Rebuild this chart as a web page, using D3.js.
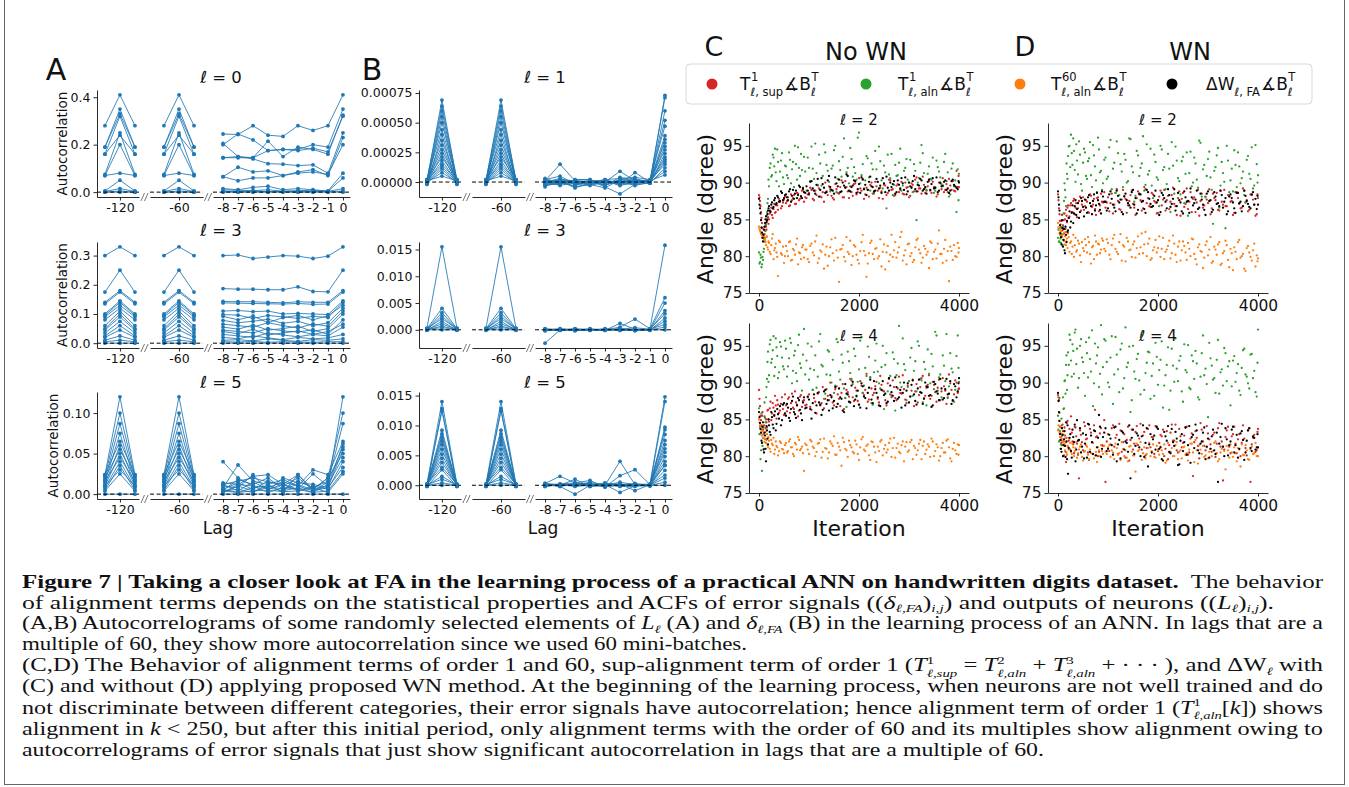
<!DOCTYPE html>
<html><head><meta charset="utf-8">
<script src="https://cdn.jsdelivr.net/npm/d3@7"></script>
<style>body{margin:0;background:#fff}svg{display:block}</style>
</head><body>
<svg id="fig" width="1349" height="787"></svg>
<script>
// ---------------- DATA ----------------
// Autocorrelogram lags (x categories)
const lags = [-121,-120,-119,-61,-60,-59,-8,-7,-6,-5,-4,-3,-2,-1,0];
const segTicks = [[-120],[-60],[-8,-7,-6,-5,-4,-3,-2,-1,0]];
// each row: [value at lag ±1 around 60k, value at lag 60k, values at lags -8..-1 (8), value at lag 0]
const acfA0 = [
 [0.28,0.41, 0.245,0.243,0.28,0.24,0.235,0.28,0.26,0.28, 0.41],
 [0.19,0.35, 0.20,0.245,0.22,0.175,0.18,0.18,0.20,0.19, 0.35],
 [0.19,0.33, 0.205,0.15,0.145,0.215,0.15,0.19,0.18,0.16, 0.325],
 [0.16,0.32, 0.145,0.145,0.145,0.175,0.18,0.175,0.185,0.17, 0.32],
 [0.075,0.25, 0.145,0.15,0.14,0.12,0.118,0.112,0.115,0.08, 0.25],
 [0.16,0.24, 0.065,0.105,0.085,0.09,0.07,0.085,0.095,0.07, 0.23],
 [0.07,0.20, 0.065,0.048,0.06,0.06,0.07,0.08,0.085,0.075, 0.20],
 [0.07,0.08, 0.015,0.01,0.02,0.025,0.01,0.015,0.01,0.005, 0.08],
 [0.005,0.05, 0.01,0.008,0.006,0.01,0.004,0.006,0.008,0.003, 0.06],
 [0.003,0.015, 0.004,0.003,0.005,0.002,0.003,0.004,0.002,0.003, 0.015],
 [0,0.005, 0.002,0.001,0.002,0.001,0.002,0.001,0.002,0.001, 0.005],
 [0,0, 0,0,0,0,0,0,0,0, 0]
];
const acfA3 = [
 [0.30,0.33, 0.300,0.302,0.290,0.295,0.300,0.298,0.290,0.298, 0.33],
 [0.175,0.25, 0.187,0.185,0.185,0.183,0.183,0.193,0.177,0.176, 0.25],
 [0.14,0.18, 0.143,0.142,0.142,0.140,0.138,0.142,0.140,0.140, 0.18],
 [0.135,0.175, 0.138,0.137,0.136,0.135,0.134,0.136,0.133,0.134, 0.175],
 [0.10,0.145, 0.110,0.112,0.108,0.110,0.100,0.102,0.100,0.098, 0.145],
 [0.095,0.14, 0.098,0.096,0.085,0.095,0.090,0.085,0.092,0.088, 0.14],
 [0.09,0.13, 0.092,0.080,0.093,0.070,0.088,0.095,0.080,0.094, 0.13],
 [0.08,0.12, 0.078,0.070,0.075,0.082,0.068,0.075,0.060,0.070, 0.12],
 [0.06,0.11, 0.065,0.060,0.055,0.070,0.060,0.052,0.066,0.058, 0.11],
 [0.05,0.10, 0.055,0.048,0.062,0.045,0.050,0.058,0.040,0.050, 0.10],
 [0.045,0.09, 0.045,0.040,0.035,0.050,0.042,0.038,0.046,0.030, 0.08],
 [0.035,0.075, 0.040,0.032,0.048,0.028,0.035,0.042,0.030,0.040, 0.065],
 [0.025,0.06, 0.030,0.025,0.020,0.035,0.028,0.022,0.030,0.025, 0.055],
 [0.02,0.045, 0.020,0.015,0.025,0.018,0.012,0.020,0.015,0.018, 0.03],
 [0.01,0.025, 0.010,0.012,0.008,0.015,0.010,0.006,0.012,0.010, 0.015],
 [0.005,0.01, 0.005,0.004,0.006,0.003,0.005,0.004,0.003,0.005, 0.005],
 [0,0, 0,0,0,0,0,0,0,0, 0]
];
const acfA5 = [
 [0.024,0.12, 0.004,0.002,0.008,0.010,0.006,0.012,0.005,0.010, 0.12],
 [0.022,0.10, 0.012,0.016,0.020,0.015,0.012,0.024,0.006,0.020, 0.10],
 [0.018,0.087, 0.040,0.020,0.010,0.008,0.015,0.010,0.004,0.015, 0.087],
 [0.015,0.075, 0.008,0.036,0.016,0.012,0.018,0.010,0.030,0.024, 0.065],
 [0.024,0.065, 0.014,0.012,0.022,0.024,0.012,0.006,0.025,0.010, 0.062],
 [0.012,0.06, 0.005,0.018,0.012,0.020,0.006,0.016,0.008,0.016, 0.058],
 [0.020,0.055, 0.010,0.008,0.024,0.004,0.020,0.014,0.012,0.008, 0.055],
 [0.010,0.05, 0.006,0.014,0.006,0.016,0.010,0.020,0.006,0.020, 0.05],
 [0.016,0.045, 0.002,0.010,0.004,0.008,0.004,0.008,0.002,0.012, 0.045],
 [0.008,0.04, 0.012,0.004,0.015,0.006,0.012,0.004,0.010,0.006, 0.04],
 [0.005,0.035, 0.004,0.006,0.002,0.012,0.002,0.024,0.004,0.008, 0.033],
 [0.010,0.03, 0.002,0.012,0.010,0.002,0.008,0.006,0.002,0.004, 0.028],
 [0.004,0.025, 0.006,0.002,0.004,0.005,0.003,0.004,0.008,0.002, 0.025],
 [0,0, 0,0,0,0,0,0,0,0, 0]
];
const acfB1 = [
 [0.00001,0.00069, 0.00002,0.00005,-0.00002,0.00001,-0.00003,0.00002,0.00001,0.00000, 0.00073],
 [0.00002,0.00064, -0.00001,0.00002,0.00001,-0.00002,0.00000,0.00009,0.00001,0.00001, 0.00071],
 [0.00000,0.00060, 0.00001,0.00015,0.00001,0.00000,0.00002,-0.00002,0.00008,0.00000, 0.00060],
 [-0.00001,0.00055, -0.00003,-0.00001,-0.00003,0.00001,-0.00004,-0.00010,-0.00002,0.00001, 0.00052],
 [0.00001,0.00050, 0.00000,0.00003,-0.00001,-0.00001,0.00002,0.00003,0.00004,0.00002, 0.00047],
 [0.00002,0.00044, 0.00002,-0.00002,0.00002,0.00002,-0.00001,0.00001,-0.00001,0.00001, 0.00039],
 [-0.00002,0.00040, -0.00002,0.00001,-0.00004,-0.00002,-0.00005,0.00002,0.00003,-0.00001, 0.00036],
 [0.00001,0.00035, 0.00001,-0.00003,0.00000,0.00001,0.00001,-0.00003,0.00000,0.00002, 0.00033],
 [0.00000,0.00031, -0.00004,0.00002,-0.00002,-0.00003,0.00000,0.00001,-0.00003,0.00000, 0.00030],
 [0.00001,0.00027, 0.00003,-0.00001,0.00001,0.00000,-0.00002,0.00000,0.00002,0.00001, 0.00027],
 [-0.00001,0.00024, 0.00000,0.00001,-0.00005,-0.00001,0.00001,-0.00001,-0.00002,-0.00001, 0.00024],
 [0.00002,0.00021, -0.00002,-0.00002,0.00002,0.00002,-0.00003,0.00004,0.00001,0.00000, 0.00021],
 [0.00000,0.00018, 0.00001,0.00000,-0.00001,-0.00002,0.00000,-0.00002,-0.00001,0.00001, 0.00019],
 [0.00001,0.00015, 0.00000,0.00002,0.00001,0.00000,0.00001,0.00000,0.00002,0.00000, 0.00017],
 [0.00000,0.00013, 0.00001,0.00000,0.00001,-0.00001,0.00000,0.00001,0.00000,0.00001, 0.00015],
 [-0.00001,0.00011, -0.00001,-0.00001,0.00000,0.00001,-0.00001,0.00001,0.00000,-0.00001, 0.00012],
 [0.00000,0.00008, 0.00000,0.00001,-0.00001,0.00000,0.00000,-0.00001,0.00001,0.00000, 0.00009],
 [0.00001,0.00005, 0.00001,0.00000,0.00000,-0.00001,0.00001,0.00000,0.00000,0.00001, 0.00006]
];
const acfB3 = [
 [0.0003,0.0155, -0.0002,0.0000,0.0001,0.0000,-0.0001,0.0002,0.0000,0.0001, 0.0158],
 [0.0002,0.0040, 0.0000,0.0001,-0.0001,0.0001,0.0000,0.0005,0.0020,0.0002, 0.0060],
 [0.0001,0.0032, -0.0025,0.0000,0.0000,-0.0001,0.0001,0.0000,-0.0001,0.0000, 0.0050],
 [0.0000,0.0026, 0.0001,-0.0001,0.0002,0.0000,-0.0001,0.0012,0.0001,0.0000, 0.0036],
 [0.0002,0.0021, 0.0000,0.0002,0.0000,0.0001,0.0000,0.0001,0.0004,0.0001, 0.0030],
 [-0.0001,0.0016, 0.0002,0.0000,-0.0002,0.0000,0.0002,-0.0001,0.0000,-0.0001, 0.0022],
 [0.0001,0.0011, -0.0001,0.0001,0.0001,-0.0001,0.0000,0.0002,-0.0002,0.0000, 0.0016],
 [0.0000,0.0007, 0.0000,-0.0001,0.0000,0.0002,-0.0001,0.0000,0.0001,0.0001, 0.0010],
 [0.0001,0.0004, 0.0001,0.0000,0.0001,0.0000,0.0001,-0.0001,0.0000,0.0000, 0.0005],
 [0,0, 0,0,0,0,0,0,0,0, 0]
];
const acfB5 = [
 [0.0002,0.0140, 0.0000,0.0001,-0.0001,0.0001,0.0000,0.0001,-0.0001,0.0002, 0.0148],
 [-0.0002,0.0128, 0.0003,0.0015,0.0004,0.0002,0.0001,0.0000,0.0001,0.0000, 0.0140],
 [0.0001,0.0124, -0.0001,0.0000,0.0010,-0.0002,0.0000,0.0040,0.0001,0.0001, 0.0097],
 [0.0000,0.0092, 0.0002,-0.0002,-0.0015,0.0000,0.0003,0.0002,0.0000,0.0000, 0.0093],
 [-0.0001,0.0086, -0.0002,0.0002,0.0004,0.0008,-0.0003,0.0016,0.0026,0.0001, 0.0085],
 [0.0002,0.0080, 0.0001,-0.0001,0.0000,-0.0001,0.0001,-0.0012,-0.0001,-0.0001, 0.0075],
 [0.0001,0.0074, 0.0000,0.0000,0.0002,0.0003,-0.0002,0.0002,-0.0009,0.0001, 0.0068],
 [-0.0001,0.0068, 0.0003,0.0001,-0.0002,0.0000,0.0004,0.0000,0.0003,0.0000, 0.0061],
 [0.0000,0.0060, -0.0001,0.0002,0.0001,0.0005,0.0000,0.0005,0.0001,0.0002, 0.0055],
 [0.0001,0.0052, 0.0001,-0.0002,0.0003,-0.0002,0.0001,-0.0001,0.0000,-0.0001, 0.0048],
 [-0.0001,0.0045, 0.0000,0.0001,-0.0001,0.0001,-0.0003,0.0001,0.0002,0.0000, 0.0040],
 [0.0000,0.0038, 0.0002,0.0000,0.0002,0.0000,0.0000,-0.0002,-0.0002,0.0001, 0.0034],
 [0.0002,0.0030, -0.0002,0.0001,0.0000,0.0002,0.0001,0.0001,0.0000,0.0000, 0.0033],
 [-0.0002,0.0026, 0.0001,-0.0001,0.0001,-0.0001,0.0000,0.0000,0.0001,-0.0001, 0.0025],
 [0.0000,0.0015, 0.0000,0.0002,0.0000,0.0001,0.0001,-0.0001,0.0000,0.0001, 0.0017],
 [0.0001,0.0010, 0.0001,0.0000,0.0001,0.0000,-0.0001,0.0000,0.0001,0.0000, 0.0012],
 [0.0000,0.0004, 0,0,0,0,0,0,0,0, 0.0005],
 [0,0, 0,0,0,0,0,0,0,0, 0]
];

// Iterations (x values of the angle scatter plots): two interleaved sampling grids
const iters = [0,20,40,60,80,100,120,140,160,180,200,230,260,290,320,350,380,420,460,500,
 540,580,620,660,700,740,780,820,860,900,
 950,1000,1050,1100,1150,1200,1250,1300,1350,1400,1450,1500,1550,1600,1650,1700,1750,1800,1850,1900,
 1950,2000,2050,2100,2150,2200,2250,2300,2350,2400,2450,2500,2550,2600,2650,2700,2750,2800,2850,2900,
 2950,3000,3050,3100,3150,3200,3250,3300,3350,3400,3450,3500,3550,3600,3650,3700,3750,3800,3850,3900,
 3950,4000];
const iters2 = [10,30,50,70,90,110,130,150,170,190,215,245,275,305,335,365,400,440,480,520,
 560,600,640,680,720,760,800,840,880,925,
 975,1025,1075,1125,1175,1225,1275,1325,1375,1425,1475,1525,1575,1625,1675,1725,1775,1825,1875,1925,
 1975,2025,2075,2125,2175,2225,2275,2325,2375,2425,2475,2525,2575,2625,2675,2725,2775,2825,2875,2925,
 2975,3025,3075,3125,3175,3225,3275,3325,3375,3425,3475,3525,3575,3625,3675,3725,3775,3825,3875,3925,
 3975,3990];

// C (No WN), l = 2
const cTopSup = [88.3,87.5,86.0,84.5,83.0,82.4,83.5,84.0,84.8,85.3,85.0,86.1,85.6,86.4,85.9,87.0,86.3,87.4,86.8,87.7,
 87.2,88.0,86.9,87.6,88.3,87.1,88.5,87.8,88.9,87.4,
 87.9,88.6,89.0,87.6,88.3,89.2,88.0,87.4,88.8,89.5,88.2,87.7,89.1,88.5,90.3,88.0,89.4,87.9,88.7,89.8,
 88.4,90.6,88.9,87.8,89.3,88.1,90.0,88.6,89.5,87.9,88.8,89.7,88.3,90.4,89.0,88.2,89.6,88.7,90.1,88.4,
 89.3,88.0,89.9,88.8,90.7,89.2,88.5,89.7,88.9,90.2,88.6,89.4,88.1,90.0,89.1,88.7,89.8,90.5,89.0,88.9,91.6,89.4];
const cTopSup2 = [88.0,86.8,85.2,83.8,82.6,83.0,84.2,83.6,85.1,84.4,85.8,86.6,85.2,87.1,86.0,86.9,87.8,86.5,87.3,88.1,
 87.5,86.8,88.4,87.9,87.1,88.6,87.6,88.2,89.0,88.0,
 88.4,89.3,87.8,88.9,89.6,88.1,88.7,90.0,88.3,89.1,87.9,89.8,88.6,89.4,88.0,90.2,88.8,89.5,88.2,89.9,
 88.7,89.2,90.5,88.4,89.0,89.7,88.5,90.1,88.9,89.3,87.8,89.6,88.6,90.3,89.1,88.3,89.8,89.0,88.5,90.0,
 89.4,88.2,89.7,90.4,88.8,89.2,90.8,88.6,89.5,88.9,90.1,89.3,88.4,89.9,90.6,89.0,88.7,89.6,90.2,88.8,89.4,90.9];
const cTopAln1 = [80.5,79.2,79.8,78.9,79.5,81.0,82.5,84.3,86.0,87.8,89.5,92.6,91.0,93.4,94.6,90.2,92.8,91.5,94.0,89.8,
 92.2,90.6,93.1,91.8,89.4,92.5,94.8,90.9,91.7,93.5,
 88.9,92.0,94.9,90.5,91.3,93.8,89.6,95.2,92.4,90.1,91.9,94.4,88.7,92.9,90.8,96.0,91.4,89.9,93.2,92.1,
 90.4,96.8,91.0,89.2,93.6,90.7,92.6,88.5,91.8,94.9,90.3,92.3,86.5,91.1,93.9,89.7,90.9,92.7,88.9,91.6,
 93.2,90.0,89.4,92.5,84.9,90.6,95.1,91.3,89.0,92.2,90.4,88.6,93.0,91.5,89.8,92.8,90.2,88.1,91.9,89.5,86.0,91.2];
const cTopAln1b = [79.0,80.2,78.5,79.9,80.6,82.0,83.4,85.5,87.2,90.4,92.0,90.8,93.8,92.2,91.4,94.5,89.5,93.0,90.7,92.3,
 91.0,94.1,89.9,92.8,95.0,90.4,92.0,93.9,89.3,91.5,
 93.4,90.2,91.9,95.3,89.7,92.6,90.9,94.1,91.6,88.8,92.3,95.0,90.5,91.7,93.5,89.4,92.0,94.7,90.8,91.3,
 96.1,89.9,92.5,90.3,93.3,88.9,91.8,94.3,90.1,92.9,89.2,91.4,93.8,90.6,88.3,92.4,91.0,94.6,89.6,92.0,
 90.4,93.1,88.7,91.6,90.0,92.7,94.0,89.3,91.2,90.5,93.4,88.9,92.1,90.7,89.5,93.9,91.4,88.4,92.6,90.3,91.8,87.6];
const cTopAln60 = [84.0,83.5,83.1,82.8,82.6,82.9,82.2,81.5,82.7,80.9,81.8,80.3,82.4,79.6,81.1,80.5,77.3,81.9,80.2,79.1,
 81.4,80.0,82.0,79.5,80.8,81.6,78.9,80.4,81.2,79.8,
 80.9,79.2,81.7,80.1,82.8,79.7,80.6,78.3,81.3,80.0,82.3,79.4,80.8,76.5,81.0,79.9,82.6,80.3,78.8,81.5,
 80.2,79.0,81.9,80.7,77.2,80.4,82.1,79.6,81.1,80.0,78.6,81.6,80.5,79.3,82.9,80.8,79.8,81.2,83.3,80.1,
 78.9,81.7,80.4,79.5,82.2,80.9,79.1,81.4,80.2,78.4,81.8,80.6,79.7,83.5,80.3,81.0,79.4,76.6,80.7,81.5,79.9,81.1];
const cTopAln60b = [83.7,83.3,82.9,82.5,82.7,82.3,81.9,82.6,81.2,82.0,80.6,81.5,83.0,80.8,81.7,79.9,82.1,80.4,81.3,80.0,
 80.7,81.9,79.4,81.0,80.2,82.4,80.5,79.6,81.5,80.9,
 79.6,81.4,80.5,82.0,79.1,80.8,81.6,80.2,78.7,81.2,80.4,82.5,79.8,80.9,81.5,79.3,80.6,82.1,80.0,81.3,
 79.5,80.7,82.9,80.1,79.0,81.8,80.3,81.0,79.7,82.3,80.6,78.2,81.4,80.2,79.9,81.9,80.5,82.6,79.4,80.8,
 81.6,80.0,79.2,81.2,82.4,80.4,79.8,81.0,80.6,82.0,79.6,80.9,81.7,80.3,79.1,82.2,80.7,81.3,79.5,80.0,81.8,80.5];
const cTopDW = [87.8,86.5,84.9,83.2,82.0,83.6,84.5,85.4,84.9,86.2,86.8,86.0,87.3,86.7,87.9,87.2,88.0,87.5,88.6,87.9,
 88.4,87.6,89.1,88.2,87.8,88.9,88.3,89.4,87.9,88.7,
 89.5,88.4,90.2,88.9,89.7,88.1,90.6,89.3,88.7,90.9,89.0,88.5,89.9,90.4,88.8,89.6,91.1,88.9,89.4,90.3,
 88.6,89.8,90.7,89.1,88.3,90.1,89.5,88.8,90.5,89.2,88.6,89.9,90.8,88.9,89.4,90.2,88.7,89.7,90.6,89.0,
 88.4,90.0,89.3,90.9,88.8,89.6,90.3,89.1,88.5,90.4,89.8,89.2,90.7,88.9,89.5,90.1,89.0,88.6,90.2,89.7,89.3,90.0];
const cTopDW2 = [87.0,85.8,83.9,82.5,82.9,84.0,85.0,84.6,85.7,86.5,86.2,87.0,86.5,87.6,87.0,88.2,87.4,88.8,87.6,88.3,
 88.0,88.8,87.4,89.0,88.5,87.9,89.6,88.1,89.2,88.6,
 88.9,90.1,89.2,88.5,90.5,89.0,89.8,88.6,90.3,89.4,88.9,90.7,89.5,88.7,90.0,89.3,90.9,88.8,89.6,90.2,
 89.1,88.6,90.4,89.7,89.0,90.8,89.4,88.9,90.1,89.6,90.6,88.7,89.3,90.0,89.8,88.5,90.3,89.2,89.9,90.7,
 88.8,89.5,90.2,89.1,89.7,90.5,88.9,89.4,90.1,89.0,90.6,89.3,88.7,90.0,89.6,90.3,89.2,88.9,90.4,89.5,89.1,90.2];

// C (No WN), l = 4
const cBotSup = [89.0,86.8,84.9,85.5,83.6,84.2,82.3,85.0,83.9,86.3,84.7,87.4,85.8,86.6,88.2,85.1,87.0,86.2,88.0,85.6,
 86.9,87.8,85.9,88.5,86.4,87.3,85.4,88.1,86.7,87.6,
 87.0,88.4,86.3,87.9,85.8,88.7,87.2,86.5,89.1,87.6,88.2,86.9,89.5,87.8,88.6,86.4,89.0,88.1,90.3,87.5,
 88.9,87.0,89.6,88.3,91.2,87.7,89.2,88.6,90.1,87.3,89.7,88.8,86.9,90.5,88.0,89.4,87.6,90.8,88.5,89.1,
 87.2,90.2,88.9,86.8,89.8,88.3,90.6,87.9,89.3,91.0,88.2,89.7,87.4,90.4,88.8,89.5,87.1,91.1,89.0,88.4,90.0,89.2];
const cBotSup2 = [87.8,85.5,84.2,86.0,83.0,85.4,83.8,84.6,86.2,85.0,86.5,84.9,87.2,85.6,86.9,87.6,85.9,87.1,86.4,88.4,
 86.1,88.0,87.2,86.6,88.8,87.0,86.2,88.3,87.5,86.9,
 88.0,86.7,89.0,87.4,88.5,86.9,89.4,87.8,88.2,90.0,87.3,89.1,88.4,86.8,89.8,87.9,88.7,90.5,88.0,89.3,
 87.5,90.2,88.6,89.0,87.4,90.7,88.3,89.5,87.8,90.9,88.9,87.6,89.9,88.4,90.3,87.9,89.2,88.6,91.0,87.7,
 89.6,88.1,90.4,88.8,87.3,89.4,90.9,88.2,89.7,87.8,90.1,88.7,89.3,87.6,90.6,88.9,88.0,89.9,87.5,90.3,88.6,89.1];
const cBotAln1 = [86.5,84.0,80.8,78.0,82.5,81.0,85.2,88.0,90.5,94.2,91.0,95.8,93.2,96.3,92.1,94.8,90.6,95.5,93.4,91.8,
 94.6,92.2,96.0,89.9,93.7,91.3,95.1,92.6,88.9,97.3,
 93.0,90.4,94.9,91.7,89.3,95.6,92.4,87.8,91.1,94.2,90.0,88.6,95.9,91.5,93.8,89.2,86.7,92.9,90.5,94.6,
 88.1,91.8,96.2,89.6,90.9,93.5,87.2,91.4,95.3,89.9,92.1,86.4,94.0,90.6,88.3,93.2,91.0,97.7,89.4,92.5,
 87.6,90.2,94.7,91.6,88.8,95.0,90.3,92.8,86.9,91.2,93.9,89.1,96.4,90.7,88.0,92.3,96.6,89.5,91.9,87.4,93.6,90.1];
const cBotAln1b = [83.0,79.6,85.8,81.4,83.9,87.3,84.6,89.4,92.8,90.1,95.2,92.7,94.4,90.9,96.0,93.6,91.4,94.9,92.2,95.7,
 90.8,93.3,95.4,91.6,94.3,90.2,96.5,92.0,93.8,91.1,
 95.3,91.9,89.0,93.7,90.8,96.6,92.2,88.5,94.4,91.0,93.1,89.6,95.5,90.4,92.7,87.9,94.2,91.3,89.8,93.6,
 90.1,95.7,88.6,92.0,94.9,90.7,87.0,93.0,91.5,89.2,95.0,92.4,88.8,90.9,94.1,86.2,92.6,90.0,96.0,91.7,
 89.4,93.4,88.2,92.9,95.6,90.5,87.3,91.8,94.5,89.9,92.2,96.9,88.9,91.1,93.7,90.2,87.9,94.0,91.4,89.0,96.4,92.0];
const cBotAln60 = [85.0,84.2,83.6,82.8,84.0,83.1,82.4,81.8,83.0,81.2,82.1,80.6,81.7,82.5,80.9,81.4,80.1,82.0,81.0,80.4,
 81.8,80.7,82.3,81.2,80.0,81.6,82.6,80.8,81.3,78.0,
 81.5,80.3,82.0,81.1,80.6,81.8,79.8,82.4,81.0,80.5,81.7,82.7,80.2,81.3,78.7,81.9,80.8,82.1,81.2,80.4,
 81.6,79.5,82.3,80.9,81.4,80.1,82.0,81.3,79.2,80.7,82.2,81.0,80.5,81.8,79.9,82.5,81.1,80.6,81.5,79.3,
 81.9,80.8,82.2,81.4,80.2,81.7,79.6,82.0,80.9,81.3,82.4,80.0,81.6,79.4,81.1,80.5,82.1,81.2,79.3,81.8,80.3,81.5];
const cBotAln60b = [84.6,83.9,82.9,83.4,82.5,81.9,83.3,82.2,81.5,82.6,81.0,82.2,81.5,80.3,82.0,81.2,80.7,81.8,80.9,81.5,
 80.5,82.0,81.2,80.3,81.8,80.9,82.2,81.0,80.4,81.7,
 80.9,82.2,81.3,80.0,81.7,82.3,80.6,81.1,79.7,82.0,81.4,80.2,81.8,80.8,82.5,81.0,79.9,81.5,80.6,82.1,
 80.3,81.2,82.6,80.7,81.6,79.5,81.9,80.5,81.3,82.0,80.1,81.5,80.9,82.4,81.1,79.8,81.7,80.4,82.0,81.3,
 80.6,81.9,79.6,81.1,80.8,82.2,81.4,80.3,81.6,79.9,82.0,80.7,81.2,80.0,81.8,80.5,82.3,79.7,81.0,80.8,81.6,80.2];
const cBotDW = [86.0,84.5,83.2,81.8,84.6,80.5,82.8,79.3,83.5,81.6,84.2,82.9,85.3,83.8,86.1,84.4,85.7,86.8,84.9,87.2,
 85.5,86.6,84.8,87.5,86.0,85.2,87.9,86.3,84.9,88.0,
 86.6,87.7,85.1,88.4,86.9,87.3,85.6,88.8,87.1,86.2,88.0,87.5,86.7,89.2,87.8,86.0,88.5,87.4,89.6,86.8,
 88.2,87.0,89.9,88.1,86.5,89.3,87.7,90.2,88.6,86.9,89.0,88.3,87.2,90.6,88.7,87.5,89.4,88.0,86.6,90.0,
 88.9,87.3,89.7,88.4,87.0,90.4,88.6,87.8,89.5,88.2,86.7,90.1,88.8,87.6,89.2,87.9,90.5,88.5,87.1,89.8,88.0,90.6];
const cBotDW2 = [85.3,83.7,82.1,84.0,80.9,83.2,81.0,84.1,82.4,85.0,83.3,86.0,84.3,85.5,83.5,86.4,85.1,84.2,87.0,85.8,
 87.1,85.2,86.4,88.1,85.7,86.9,87.6,85.8,87.3,86.5,
 88.1,86.4,87.2,85.9,88.6,87.0,86.3,89.0,87.6,88.3,86.5,89.4,87.1,88.0,86.2,89.8,88.4,87.3,90.1,87.7,
 88.9,86.6,89.5,87.9,88.6,90.4,87.2,89.1,88.0,86.8,90.2,88.5,87.4,89.6,88.2,90.7,87.8,89.0,88.6,86.9,
 89.9,88.1,90.3,87.5,89.2,88.7,87.1,90.0,89.4,88.3,86.9,89.8,88.5,90.5,87.7,89.1,88.4,90.2,87.6,89.5,88.8,89.9];

// D (WN), l = 2
const dTopSup = [88.4,86.5,84.8,83.9,85.6,84.2,83.1,85.0,86.3,84.6,86.9,85.4,87.2,86.0,87.8,86.6,85.3,87.5,86.2,88.0,
 86.8,87.4,85.9,88.2,87.0,86.4,87.9,86.1,88.5,87.3,
 86.6,88.0,87.2,85.8,88.6,87.5,86.3,89.0,87.8,86.9,88.3,87.1,85.6,88.8,87.6,86.5,89.1,87.9,86.7,88.4,
 87.3,85.9,88.9,87.7,86.2,88.2,87.4,89.3,86.8,87.9,85.5,88.6,87.1,86.4,88.7,87.8,86.0,89.0,87.5,86.6,
 88.1,87.2,85.7,88.5,87.6,86.3,88.9,87.0,86.8,88.3,87.4,85.6,88.7,87.9,86.5,89.2,87.3,86.1,88.4,87.7,85.5,87.9];
const dTopSup2 = [87.6,85.7,84.3,84.8,83.5,84.9,85.8,83.7,85.5,86.6,85.2,86.9,86.0,87.5,85.7,87.2,86.5,88.1,87.0,86.3,
 87.6,86.0,88.4,86.7,87.8,85.6,88.0,86.9,87.4,88.7,
 87.3,86.1,88.5,87.0,89.1,86.4,87.7,88.2,85.9,87.5,88.9,86.6,87.9,88.4,86.2,89.4,87.2,86.8,88.6,87.5,
 85.8,88.1,86.9,89.0,87.6,86.4,88.3,87.1,85.6,88.8,87.8,86.7,89.2,87.4,86.0,88.0,87.3,85.5,88.5,86.9,
 87.7,89.1,86.5,87.9,88.6,86.2,87.4,89.0,86.8,88.2,87.5,85.9,88.7,87.1,86.6,88.9,87.6,86.3,88.3,87.0,85.7,88.4];
const dTopAln1 = [82.5,82.0,83.2,81.8,82.9,84.0,87.5,89.0,86.8,91.2,93.6,95.0,96.5,92.4,94.3,90.1,93.0,95.6,89.8,92.7,
 94.1,90.5,93.3,91.0,95.1,92.2,88.7,94.5,91.6,89.9,
 93.4,90.8,95.8,91.9,88.6,94.0,92.5,89.4,93.1,90.2,95.9,91.4,88.2,93.7,92.0,96.3,89.7,91.1,94.6,87.9,
 92.8,90.4,95.0,91.7,89.1,93.9,86.0,92.3,94.9,90.6,88.4,93.5,91.2,85.5,94.2,90.0,92.6,89.3,95.4,91.8,
 88.0,93.2,90.7,84.4,92.1,94.7,89.6,91.3,83.8,93.0,90.3,88.8,92.4,94.1,89.9,91.5,87.3,93.6,90.5,89.2,95.1,91.0];
const dTopAln1b = [83.6,81.9,82.4,83.9,81.5,85.8,89.9,88.0,92.6,90.5,94.9,92.1,94.0,96.0,91.7,95.2,91.1,93.8,88.9,94.6,
 90.9,92.9,95.5,89.4,93.7,90.3,96.1,91.4,89.0,93.1,
 90.5,94.8,89.1,92.7,95.6,88.3,91.5,93.9,90.0,96.0,92.2,87.4,94.3,90.9,92.6,88.9,95.2,91.6,89.6,93.8,
 90.7,86.8,94.5,92.1,89.8,91.9,95.5,88.5,93.0,90.2,92.9,87.2,94.1,91.3,89.5,93.4,90.4,95.7,88.1,92.4,
 90.9,94.2,89.0,91.6,93.7,86.6,92.8,90.1,95.0,88.7,91.9,94.4,89.4,92.2,90.6,88.3,93.1,91.2,94.8,89.6,92.5,90.0];
const dTopAln60 = [84.5,83.8,82.9,83.4,82.6,83.0,82.1,82.7,81.5,82.4,83.1,80.6,82.0,81.3,79.9,82.5,80.8,81.7,79.2,81.1,
 82.3,80.5,81.9,79.0,81.4,82.8,80.2,81.6,80.9,82.1,
 80.7,81.8,79.6,82.4,81.0,80.3,83.0,81.5,79.3,82.0,80.9,81.6,79.8,82.7,81.2,80.4,83.3,81.7,79.5,80.8,
 82.2,81.1,79.9,82.5,80.6,81.4,79.7,82.8,80.2,81.3,79.4,82.0,80.5,81.8,80.0,82.3,79.6,81.2,80.7,78.4,
 81.5,80.1,82.6,79.3,80.9,81.6,78.8,80.4,82.1,79.5,81.0,78.1,80.6,81.9,79.8,80.3,78.0,81.4,79.9,80.8,78.6,79.7];
const dTopAln60b = [83.9,83.1,83.5,82.7,82.9,82.2,81.6,83.3,82.0,81.1,82.6,81.8,80.3,82.9,81.5,80.6,82.1,80.1,81.9,80.7,
 81.5,82.6,80.3,81.2,79.6,82.0,81.7,80.4,82.4,81.0,
 82.3,80.2,81.5,82.9,80.6,81.9,79.4,81.3,82.5,80.8,79.9,82.0,81.1,80.3,83.1,81.6,80.0,82.4,79.7,81.2,
 80.5,82.7,81.0,79.6,80.9,82.1,80.4,81.7,79.2,82.0,80.8,81.4,79.5,81.0,82.4,80.3,78.9,81.6,80.6,79.8,
 82.0,80.9,79.1,81.3,80.2,81.9,79.0,80.7,81.5,78.5,80.4,81.2,79.6,82.2,80.0,78.3,81.1,80.5,79.4,81.7,80.1,79.3];
const dTopDW = [88.8,87.0,84.2,82.6,84.9,81.3,83.7,80.4,82.9,84.8,83.5,86.1,84.7,86.9,85.8,87.6,86.4,85.2,87.9,86.7,
 87.7,85.9,88.3,86.8,87.5,86.2,88.6,87.1,85.8,88.1,
 87.4,86.5,88.8,87.0,86.1,88.2,87.7,85.7,88.5,87.2,86.6,89.0,87.9,86.3,88.4,87.5,85.9,88.7,87.1,86.8,
 88.9,87.6,86.0,88.3,87.4,89.1,86.7,87.8,86.2,88.6,87.3,85.8,88.0,87.5,89.2,86.9,87.7,86.4,88.5,87.0,
 85.6,88.8,87.6,86.3,88.1,87.2,88.9,86.6,87.9,86.1,88.4,87.3,85.9,88.6,87.4,86.8,88.2,87.1,86.5,88.7,87.8,87.0];
const dTopDW2 = [88.0,86.2,83.1,81.6,83.8,82.2,80.8,84.0,81.9,83.3,85.2,83.9,85.9,84.5,86.8,85.6,87.2,86.0,87.5,85.4,
 86.6,88.0,87.2,85.7,88.4,86.9,87.6,86.3,88.8,87.4,
 86.2,88.4,87.8,86.6,88.9,87.3,86.0,88.1,87.6,86.9,88.7,87.0,85.8,88.5,87.4,86.4,89.0,87.8,86.7,88.2,
 87.3,85.6,88.6,87.9,86.5,88.3,87.1,89.1,86.8,87.6,86.1,88.8,87.4,85.9,88.0,87.2,88.9,86.6,87.7,86.3,
 88.5,87.5,86.0,88.7,87.1,86.8,88.3,87.4,85.7,88.1,87.9,86.5,88.6,87.2,86.1,88.9,87.5,86.7,88.4,87.0,86.4,88.2];

// D (WN), l = 4
const dBotSup = [88.3,87.6,84.0,82.6,81.5,83.4,80.1,82.8,79.2,84.5,81.3,83.7,85.4,82.0,80.4,83.9,81.7,77.0,82.9,80.8,
 84.1,82.4,79.5,83.2,81.8,86.3,82.7,80.6,83.8,81.4,
 76.5,83.0,81.6,84.2,82.5,80.3,83.5,81.9,79.8,84.0,82.2,80.9,83.3,81.5,84.4,82.8,80.1,83.7,81.2,82.6,
 84.1,80.7,82.9,83.6,81.0,79.6,83.2,82.1,84.3,80.5,82.7,81.8,83.9,80.2,82.4,77.3,83.4,81.4,84.5,82.0,
 80.8,83.1,81.6,82.9,79.9,83.8,81.3,76.7,82.6,84.0,80.4,83.0,81.7,82.3,80.0,84.2,81.1,83.5,76.5,82.5,80.6,83.7];
const dBotSup2 = [88.0,85.9,83.1,81.8,84.3,82.0,83.9,80.6,82.5,84.8,82.1,80.9,83.2,81.6,84.0,82.7,80.2,83.5,81.9,84.6,
 82.3,80.5,83.7,81.9,84.2,82.6,80.0,83.1,81.5,84.9,
 82.0,80.7,83.8,81.3,82.9,84.4,80.6,83.0,82.2,79.4,83.6,81.7,84.1,82.4,80.9,83.3,81.1,84.2,82.6,80.3,
 83.9,81.8,82.7,80.0,83.4,81.5,84.3,82.1,80.8,83.7,81.2,82.8,84.0,80.5,83.1,81.9,82.5,79.7,83.6,81.4,
 84.1,82.3,80.6,83.2,81.7,84.5,82.0,80.9,83.5,81.3,82.7,84.0,80.4,83.0,81.8,82.4,80.1,83.8,81.6,82.9,80.8,83.3];
const dBotAln1 = [85.5,82.0,83.4,81.6,84.2,88.0,86.5,90.3,92.4,89.0,94.1,96.5,93.0,95.2,91.2,97.2,94.6,90.6,95.9,92.8,
 88.2,94.0,96.1,91.5,86.8,95.3,93.7,89.4,97.8,92.1,
 95.7,90.0,93.4,87.1,96.2,91.8,94.5,89.2,97.5,92.7,86.0,95.0,90.5,93.9,88.4,96.9,91.3,94.2,87.8,92.6,
 95.4,89.7,93.1,86.6,91.0,94.8,88.9,92.3,96.0,90.2,93.6,87.4,91.7,95.1,89.1,92.9,94.3,88.0,90.8,96.4,
 91.9,85.3,93.3,90.4,88.6,95.8,91.4,89.6,94.0,92.2,86.9,93.0,90.1,92.5,88.3,94.4,91.1,89.9,93.8,90.6,88.7,97.2];
const dBotAln1b = [83.6,87.9,81.0,85.1,82.8,86.4,90.2,88.5,93.7,91.0,92.4,95.8,90.8,94.3,96.8,92.5,89.3,95.0,93.4,91.3,
 95.5,90.7,93.2,97.1,89.9,92.6,94.8,91.2,88.4,95.9,
 92.8,89.4,96.3,91.1,93.8,88.7,95.3,90.6,92.1,94.9,87.6,91.5,93.2,90.3,96.5,89.0,92.7,94.1,90.9,88.2,
 93.5,91.7,95.6,89.6,92.4,86.3,94.6,90.1,91.9,93.0,88.8,95.2,91.4,89.3,93.7,90.5,92.6,87.7,94.0,91.0,
 89.8,95.4,92.3,90.6,93.1,88.5,91.8,94.7,90.2,92.9,89.5,93.6,91.3,88.9,92.0,94.6,90.8,89.2,93.9,91.6,88.1,92.7];
const dBotAln60 = [83.5,84.8,82.6,83.9,82.1,81.5,82.9,80.8,81.9,80.2,81.3,82.4,80.6,81.7,80.0,81.1,79.8,80.9,81.6,79.4,
 80.7,81.3,79.6,80.4,81.8,80.1,79.2,80.8,81.5,80.3,
 80.6,81.2,79.9,80.5,81.7,80.2,79.5,81.0,80.8,79.3,81.4,80.1,77.9,80.7,81.9,80.4,79.7,81.1,80.0,81.6,
 79.8,80.9,81.3,80.3,79.1,81.8,80.6,80.0,81.5,79.6,80.8,81.2,80.2,79.4,81.7,80.5,82.2,79.0,80.9,81.4,
 80.1,79.7,81.0,80.7,82.0,79.3,80.5,81.3,78.2,80.8,81.6,79.9,80.4,81.1,78.6,80.2,81.5,79.6,80.9,80.3,81.8,80.0];
const dBotAln60b = [84.2,83.2,84.0,82.4,83.0,82.0,81.7,82.5,80.5,81.4,80.9,81.8,80.3,81.2,80.7,81.9,80.4,81.3,79.9,80.6,
 81.5,80.2,80.9,81.9,79.7,80.6,81.2,80.0,80.7,81.4,
 80.3,81.5,80.8,79.6,81.1,80.4,81.9,80.0,79.8,81.3,80.6,80.1,81.7,80.9,79.5,81.2,80.3,81.8,80.7,79.9,
 81.4,80.2,80.8,81.6,79.4,80.5,81.1,80.0,81.9,80.6,79.7,81.3,80.4,80.9,81.7,79.2,80.8,81.5,80.3,79.9,
 81.2,80.6,80.0,81.8,80.4,79.6,81.0,80.7,81.4,79.8,80.5,81.2,79.3,80.9,81.6,80.1,80.8,79.5,81.3,80.4,80.0,81.1];
const dBotDW = [88.6,86.0,83.0,81.0,83.8,80.0,82.3,81.4,84.6,79.6,77.6,82.5,80.7,83.6,81.9,79.3,84.9,82.2,80.5,83.1,
 81.7,79.8,84.3,82.8,80.3,83.4,81.2,85.6,79.9,82.6,
 83.8,81.0,82.4,80.2,84.0,81.6,79.7,83.2,82.0,80.6,77.0,83.6,81.4,82.8,80.0,84.2,81.8,78.6,83.0,82.3,
 80.9,83.7,81.2,79.4,82.7,84.1,80.4,81.9,83.3,78.8,82.1,80.7,83.9,81.5,79.1,82.9,84.3,80.8,81.7,83.2,
 79.6,82.4,81.0,83.6,80.3,76.5,82.6,81.3,83.8,80.1,82.0,84.0,81.5,79.8,83.1,82.2,80.5,83.5,81.1,82.7,80.9,81.2];
const dBotDW2 = [87.5,84.8,82.2,80.6,82.9,81.5,83.4,79.9,82.0,84.2,81.1,83.0,79.8,82.6,84.3,80.9,82.1,83.8,81.3,79.7,
 82.9,84.4,80.6,81.9,83.5,80.1,82.5,84.0,81.0,83.2,
 80.7,82.9,81.5,83.9,79.3,82.2,83.4,80.9,81.8,84.2,82.5,80.3,83.1,81.2,82.7,79.9,83.8,81.6,80.5,82.8,
 84.0,81.0,79.6,83.3,82.1,80.6,83.7,81.4,82.4,78.9,83.0,81.9,80.2,84.1,82.6,81.1,83.5,80.4,82.0,83.9,
 81.3,79.8,82.7,80.8,83.2,81.7,84.4,80.0,82.3,81.5,83.6,80.5,82.9,81.0,83.4,79.5,82.1,83.8,80.7,82.5,81.2,83.0];

const angleTicks = [75,80,85,90,95];
const iterTicks = [0,2000,4000];
const seriesColors = ["#d62728","#2ca02c","#ff7f0e","#000000"]; // sup, aln1, aln60, dW

// ---------------- DRAWING ----------------
const svg = d3.select("#fig");
const defs = svg.append("defs");
const SANS = "DejaVu Sans";
svg.append("rect").attr("x",0).attr("y",0).attr("width",1349).attr("height",787).attr("fill","#fff");
svg.append("rect").attr("x",4.5).attr("y",-2).attr("width",1340).attr("height",786.5)
  .attr("fill","none").attr("stroke","#666").attr("stroke-width",1);

function styleAxis(sel, size){
  sel.selectAll("text").attr("font-family",SANS).attr("font-size",size).attr("fill","#111");
  sel.selectAll("line").attr("stroke","#111").attr("stroke-width",0.9);
  sel.selectAll("path").attr("stroke","#111").attr("stroke-width",0.9);
}
function txt(x,y,s,size,opts={}){
  const t = svg.append("text").attr("x",x).attr("y",y).text(s)
    .attr("font-family",opts.family||SANS).attr("font-size",size).attr("fill","#111")
    .attr("text-anchor",opts.anchor||"middle");
  if(opts.rotate) t.attr("transform",`rotate(-90,${x},${y})`);
  if(opts.weight) t.attr("font-weight",opts.weight);
  return t;
}

const segPx = [[0,42],[53,106],[116,253]];
const segDom = [[-121.53,-118.73],[-61.93,-58.4],[-8.67,0.47]];
let clipId = 0;
function expandRow(r){ return [r[0],r[1],r[0],r[0],r[1],r[0]].concat(r.slice(2,10),[r[10]]); }
function segOf(i){ return i<3?0:(i<6?1:2); }

function acfPanel(ox, top, bottom, ydom, yticks, yfmt, rows){
  const g = svg.append("g");
  const y = d3.scaleLinear().domain(ydom).range([bottom, top]);
  const xs = segPx.map((p,i)=> d3.scaleLinear().domain(segDom[i]).range([ox+p[0], ox+p[1]]));
  const clips = xs.map(x=>{
    const id = "clp"+(clipId++);
    defs.append("clipPath").attr("id",id).append("rect")
      .attr("x",x.range()[0]).attr("y",top-3).attr("width",x.range()[1]-x.range()[0]).attr("height",bottom-top+3);
    return id;
  });
  const line = d3.line().x(d=>d[0]).y(d=>d[1]);
  rows.forEach(r=>{
    const v = expandRow(r);
    [0,1,2].forEach(s=>{
      const pts = [];
      lags.forEach((lag,i)=>{ if(segOf(i)===s) pts.push([xs[s](lag), y(v[i])]); });
      const sg = g.append("g").attr("clip-path",`url(#${clips[s]})`);
      sg.append("path").attr("d",line(pts)).attr("fill","none").attr("stroke","#1f77b4").attr("stroke-width",1).attr("stroke-opacity",0.85);
      sg.selectAll("circle.p").data(pts).enter().append("circle")
        .attr("cx",d=>d[0]).attr("cy",d=>d[1]).attr("r",1.9).attr("fill","#1f77b4");
    });
  });
  xs.forEach(x=>{
    g.append("line").attr("x1",x.range()[0]).attr("x2",x.range()[1]).attr("y1",y(0)).attr("y2",y(0))
      .attr("stroke","#000").attr("stroke-width",1).attr("stroke-dasharray","4,2.6");
  });
  xs.forEach((x,i)=>{
    const ax = g.append("g").attr("transform",`translate(0,${bottom})`)
      .call(d3.axisBottom(x).tickValues(segTicks[i]).tickSize(3.5).tickSizeOuter(0).tickPadding(3).tickFormat(d=>String(d)));
    styleAxis(ax, 12.5);
  });
  const ay = g.append("g").attr("transform",`translate(${ox},0)`)
    .call(d3.axisLeft(y).tickValues(yticks).tickFormat(d3.format(yfmt)).tickSize(3.5).tickSizeOuter(0).tickPadding(3));
  styleAxis(ay, 12.5);
  [ox+47.5, ox+111].forEach(cx=>{
    [-1.8,1.8].forEach(d=>{
      g.append("line").attr("x1",cx+d-1.8).attr("y1",bottom+4).attr("x2",cx+d+1.8).attr("y2",bottom-4)
        .attr("stroke","#555").attr("stroke-width",0.8);
    });
  });
}

// Panel A
const rowsY = [[90,197],[242,348],[392,499]];
acfPanel(97, rowsY[0][0], rowsY[0][1], [-0.0205,0.4305], [0,0.2,0.4], ".1f", acfA0);
acfPanel(97, rowsY[1][0], rowsY[1][1], [-0.0165,0.3465], [0,0.1,0.2,0.3], ".1f", acfA3);
acfPanel(97, rowsY[2][0], rowsY[2][1], [-0.006,0.126], [0,0.05,0.10], ".2f", acfA5);
// Panel B
acfPanel(419, rowsY[0][0], rowsY[0][1], [-0.000126,0.000775], [0,0.00025,0.0005,0.00075], ".5f", acfB1);
acfPanel(419, rowsY[1][0], rowsY[1][1], [-0.0034,0.0164], [0,0.005,0.01,0.015], ".3f", acfB3);
acfPanel(419, rowsY[2][0], rowsY[2][1], [-0.0023,0.0156], [0,0.005,0.01,0.015], ".3f", acfB5);

txt(56,80,"A",30);
txt(372,80,"B",30);
[["ℓ = 0",83],["ℓ = 3",236],["ℓ = 5",388]].forEach(([s,yy])=>txt(221,yy,s,16.5));
[["ℓ = 1",83],["ℓ = 3",236],["ℓ = 5",388]].forEach(([s,yy])=>txt(545,yy,s,16.5));
txt(67,(rowsY[0][0]+rowsY[0][1])/2,"Autocorrelation",13.5,{rotate:true});
txt(67,(rowsY[1][0]+rowsY[1][1])/2,"Autocorrelation",13.5,{rotate:true});
txt(58,(rowsY[2][0]+rowsY[2][1])/2,"Autocorrelation",13.5,{rotate:true});
txt(218,534,"Lag",17);
txt(543,534,"Lag",17);

// Scatter panels
function scatterPanel(ox, top, bottom, title, titleY, series, showX){
  const g = svg.append("g");
  const x = d3.scaleLinear().domain([-200,4200]).range([ox, ox+220]);
  const y = d3.scaleLinear().domain([75,98.1]).range([bottom, top]);
  series.forEach(([ysA, ysB],k)=>{
    [[iters, ysA],[iters2, ysB]].forEach(([xs, ys])=>{
      const n = Math.min(ys.length, xs.length);
      g.selectAll(null).data(d3.range(n)).enter().append("circle")
        .attr("cx",i=>x(xs[i])).attr("cy",i=>y(ys[i])).attr("r",1.15).attr("fill",seriesColors[k]);
    });
  });
  const ax = g.append("g").attr("transform",`translate(0,${bottom})`)
    .call(d3.axisBottom(x).tickValues(iterTicks).tickSize(3.5).tickSizeOuter(0).tickPadding(3).tickFormat(d=>String(d)));
  styleAxis(ax, 15.5);
  const ay = g.append("g").attr("transform",`translate(${ox},0)`)
    .call(d3.axisLeft(y).tickValues(angleTicks).tickSize(3.5).tickSizeOuter(0).tickPadding(3));
  styleAxis(ay, 15.5);
  txt(ox+110, titleY, title, 15);
  txt(ox-36, (top+bottom)/2+1, "Angle (dgree)", 22, {rotate:true});
  if(showX) txt(ox+110, 536, "Iteration", 22);
}
scatterPanel(749, 123, 293, "ℓ = 2", 125, [[cTopSup,cTopSup2],[cTopAln1,cTopAln1b],[cTopAln60,cTopAln60b],[cTopDW,cTopDW2]], false);
scatterPanel(749, 323, 493, "ℓ = 4", 341, [[cBotSup,cBotSup2],[cBotAln1,cBotAln1b],[cBotAln60,cBotAln60b],[cBotDW,cBotDW2]], true);
scatterPanel(1048, 123, 293, "ℓ = 2", 125, [[dTopSup,dTopSup2],[dTopAln1,dTopAln1b],[dTopAln60,dTopAln60b],[dTopDW,dTopDW2]], false);
scatterPanel(1048, 323, 493, "ℓ = 4", 341, [[dBotSup,dBotSup2],[dBotAln1,dBotAln1b],[dBotAln60,dBotAln60b],[dBotDW,dBotDW2]], true);

txt(714,56,"C",27);
txt(866,60,"No WN",24);
txt(1025,56,"D",27);
txt(1190,60,"WN",24);

// Legend
svg.append("rect").attr("x",686).attr("y",64).attr("width",626).attr("height",40).attr("rx",4)
  .attr("fill","#fff").attr("stroke","#d8d8d8").attr("stroke-width",1);
function legendItem(dx, color, tx, parts){
  svg.append("circle").attr("cx",dx).attr("cy",84).attr("r",5.5).attr("fill",color);
  let cx = tx;
  parts.forEach(p=>{
    if(typeof p === "string"){
      const t = svg.append("text").attr("x",cx).attr("y",90).text(p).attr("font-family",SANS).attr("font-size",17).attr("fill","#111");
      cx += t.node().getComputedTextLength();
    } else {
      let w = 0;
      if(p.sup){ const t = svg.append("text").attr("x",cx+0.5).attr("y",80.5).text(p.sup).attr("font-family",SANS).attr("font-size",11.5).attr("fill","#111"); w = Math.max(w,t.node().getComputedTextLength()); }
      if(p.sub){ const t = svg.append("text").attr("x",cx).attr("y",95.5).text(p.sub).attr("font-family",SANS).attr("font-size",11.5).attr("fill","#111"); w = Math.max(w,t.node().getComputedTextLength()); }
      cx += w + 1;
    }
  });
}
legendItem(712, seriesColors[0], 740, ["T",{sup:"1",sub:"ℓ, sup"},"∡B",{sup:"T",sub:"ℓ"}]);
legendItem(866, seriesColors[1], 898, ["T",{sup:"1",sub:"ℓ, aln"},"∡B",{sup:"T",sub:"ℓ"}]);
legendItem(1020, seriesColors[2], 1051, ["T",{sup:"60",sub:"ℓ, aln"},"∡B",{sup:"T",sub:"ℓ"}]);
legendItem(1172, seriesColors[3], 1206, ["ΔW",{sub:"ℓ, FA"},"∡B",{sup:"T",sub:"ℓ"}]);

// Caption
const SERIF = "Liberation Serif";
const CAP = 18.3;
function richLine(y, width, segs){
  const t = svg.append("text").attr("x",22).attr("y",y).attr("font-family",SERIF).attr("font-size",CAP).attr("fill","#111")
    .attr("xml:space","preserve");
  let cur = 0, prevW = 0;
  segs.forEach(([s,st])=>{
    const flags = (st||"").split(" ");
    const ts = t.append("tspan").text(s);
    let off = 0, size = CAP;
    if(flags.includes("sub")){ off = flags.includes("back") ? 5.5 : 3.5; size = 11; }
    if(flags.includes("sup")){ off = -7.5; size = 11; }
    ts.attr("font-size",size);
    if(flags.includes("bold")) ts.attr("font-weight","bold");
    if(flags.includes("it")) ts.attr("font-style","italic");
    ts.attr("dy", off-cur); cur = off;
    if(flags.includes("back")) ts.attr("dx", -prevW);
    prevW = ts.node().getComputedTextLength();
  });
  if(cur!==0) t.append("tspan").attr("dy",-cur).text("");
  t.attr("textLength",width).attr("lengthAdjust","spacingAndGlyphs");
}
richLine(588,1301,[["Figure 7 | Taking a closer look at FA in the learning process of a practical ANN on handwritten digits dataset.","bold"],["  The behavior"]]);
richLine(608.5,1252,[["of alignment terms depends on the statistical properties and ACFs of error signals (("],["δ","it"],["ℓ,FA","it sub"],[")"],["i,j","it sub"],[") and outputs of neurons (("],["L","it"],["ℓ","it sub"],[")"],["i,j","it sub"],[")."]]);
richLine(629,1301,[["(A,B) Autocorrelograms of some randomly selected elements of "],["L","it"],["ℓ","it sub"],[" (A) and "],["δ","it"],["ℓ,FA","it sub"],[" (B) in the learning process of an ANN. In lags that are a"]]);
richLine(650,725,[["multiple of 60, they show more autocorrelation since we used 60 mini-batches."]]);
richLine(671,1301,[["(C,D) The Behavior of alignment terms of order 1 and 60, sup-alignment term of order 1 ("],["T","it"],["1","sup"],["ℓ,sup","it sub back"],[" = "],["T","it"],["2","sup"],["ℓ,aln","it sub back"],[" + "],["T","it"],["3","sup"],["ℓ,aln","it sub back"],[" + · · · ), and ΔW"],["ℓ","it sub"],[" with"]]);
richLine(692,1301,[["(C) and without (D) applying proposed WN method. At the beginning of the learning process, when neurons are not well trained and do"]]);
richLine(713.5,1301,[["not discriminate between different categories, their error signals have autocorrelation; hence alignment term of order 1 ("],["T","it"],["1","sup"],["ℓ,aln","it sub back"],["["],["k","it"],["]) shows"]]);
richLine(735,1301,[["alignment in "],["k","it"],[" < 250, but after this initial period, only alignment terms with the order of 60 and its multiples show alignment owing to"]]);
richLine(756,1022,[["autocorrelograms of error signals that just show significant autocorrelation in lags that are a multiple of 60."]]);
</script>
</body></html>
